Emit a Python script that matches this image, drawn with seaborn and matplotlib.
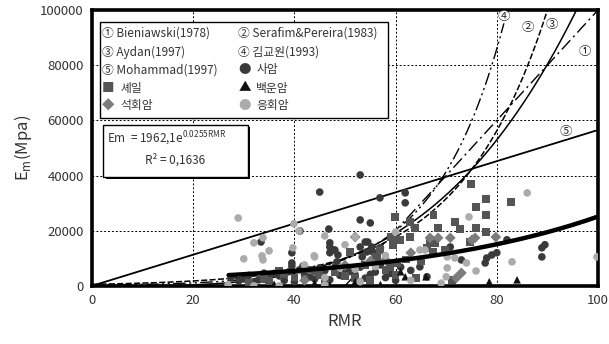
import numpy as np
import pandas as pd
import matplotlib.pyplot as plt
import seaborn as sns
from matplotlib.patches import Rectangle

# scatter data (RMR, Em in MPa)
sandstone = [(45, 34000), (53, 40200), (56.9, 31900), (61.9, 33700), (61.9, 30100), (53, 23900),
             (55, 22800), (46.8, 20600), (41.1, 19900), (47, 15600), (47.6, 13000), (54, 15900),
             (55.3, 14100), (55.5, 12300), (53.4, 10500), (39.5, 12000), (39.5, 8300), (47, 14100),
             (48, 13000), (47, 12000), (48.6, 11200), (48.4, 8700), (53, 14100), (54.5, 15900),
             (54.3, 12300), (57, 13800), (41.7, 7200), (39.5, 7200), (89.5, 14900), (88.9, 13800),
             (88.9, 10500), (80, 12000), (79, 11200), (78, 10100), (77.7, 8300), (73, 9400),
             (66.2, 3300), (64.8, 6900), (70.8, 14100), (82, 16700), (33.4, 15900), (30, 2500),
             (32, 1500), (35, 3000), (38, 2000), (42, 4000), (44, 2500), (46, 5500), (50, 6000),
             (52, 4000), (56, 5000), (58, 3000), (60, 2000), (36, 4500), (29, 1800),
             (31, 3800), (33, 2200), (34, 4600), (37, 3600), (39, 5200), (40, 1500), (41, 5800),
             (43, 3200), (45, 6500), (47, 2200), (48, 6800), (49, 3800), (51, 5200), (53, 6800),
             (54, 2800), (55, 4200), (57, 7600), (59, 4500), (61, 6800), (63, 5600), (27.5, 3000)]
shale = [(74.9, 37000), (77.9, 31500), (82.8, 30400), (75.9, 28600), (77.9, 25700), (67.5, 25700),
         (71.7, 23200), (72.7, 20600), (75.9, 21000), (77.9, 19600), (62.8, 23200), (63.8, 21000),
         (62.8, 17700), (66.8, 16700), (67.8, 15600), (66.2, 13800), (59, 17700), (60.5, 16700),
         (56.9, 13000), (51, 12300), (59.5, 14900), (61, 16700), (56.3, 10100), (58.9, 6900),
         (60.3, 8300), (67.4, 15900), (67.4, 12300), (69.8, 13000), (74.7, 15900), (71.1, 2200),
         (68.4, 21000), (59.9, 25000), (56, 10500), (50, 3500), (45, 4000), (40, 3000), (34, 2500),
         (31, 1200), (55, 2200), (62, 9500), (65, 9000), (48, 5000), (37, 5500), (43, 6000),
         (38, 4200), (42, 2600), (46, 1800), (52, 2800), (54, 7500), (58, 5800), (60, 4000),
         (64, 2800), (35, 1800), (44, 5200)]
dolomite = [(84, 2200), (61, 5100), (61.9, 3300), (66, 3300), (36, 600), (44, 1000), (52, 1500),
            (47, 300), (57, 500), (78.5, 1500)]
limestone = [(52, 17700), (55, 9000), (63, 12000), (70.8, 17400), (68.4, 17400), (66.8, 17400),
             (75.1, 16700), (75.7, 17400), (79.8, 17700), (72, 2900), (73, 4700), (42, 2000),
             (50, 7500), (58, 9500)]
tuff = [(28.9, 24600), (39.9, 22500), (40.9, 19900), (33.8, 17400), (32, 15600), (35, 12700),
        (33.6, 10900), (33.8, 9400), (30, 9800), (39.7, 13800), (43.9, 10900), (46, 18100),
        (52, 17700), (26.9, 400), (32, 0), (37, 0), (86, 33700), (74.5, 25000), (99.8, 10500),
        (83, 8700), (75.9, 5400), (74, 8300), (71.7, 10100), (70.2, 10500), (70.2, 6500),
        (70, 3300), (65.8, 13000), (64.8, 13000), (44, 10500), (42, 7600), (50, 14900),
        (49, 6500), (60, 19500), (58, 11000), (46, 3000), (53, 1500), (63, 2000), (69, 1000),
        (46, 300), (52, 6000), (56, 7000)]

rock_names = ['사암', '셰일', '백운암', '석회암', '응회암']
rock_colors = ['#3a3a3a', '#555555', '#111111', '#7c7c7c', '#ababab']
rock_markers = ['o', 's', '^', 'D', 'o']
rock_glyphs = ['●', '■', '▲', '◆', '●']

# empirical equations shown on the chart (Em in MPa)
bien_slope, bien_icpt = 2000, -100000          # Bieniawski: 2RMR-100 GPa
serafim_a, serafim_b = 10, 40                  # Serafim&Pereira: 10^((RMR-10)/40) GPa
aydan_c, aydan_p = 0.0097, 3.54                # Aydan: 0.0097 RMR^3.54
kim_a, kim_k = 252, 0.0729                     # 김교원
moh_slope = 565                                # Mohammad
reg_a, reg_k = 1962.1, 0.0255                  # regression

frames = []
for name, pts in zip(rock_names, [sandstone, shale, dolomite, limestone, tuff]):
    d = pd.DataFrame(pts, columns=['RMR', 'Em'])
    d['rock'] = name
    frames.append(d)
df = pd.concat(frames, ignore_index=True)

sns.set_style('white')
plt.rcParams['font.family'] = ['Noto Sans CJK KR', 'DejaVu Sans']
plt.rcParams['axes.unicode_minus'] = False

fig = plt.figure(figsize=(6.09, 3.44), dpi=100)
ax = fig.add_axes([0.151, 0.169, 0.831, 0.802])

r = np.linspace(0, 100, 401)
r_b = r[r >= 50]
ax.plot(r_b, bien_slope * r_b + bien_icpt, color='black', lw=1.0, ls=(0, (9, 3, 1.5, 3)))
ax.plot(r, 1000 * 10 ** ((r - serafim_a) / serafim_b), color='black', lw=1.1, ls=(0, (4, 1.5)))
ax.plot(r, aydan_c * r ** aydan_p, color='black', lw=1.1)
ax.plot(r, kim_a * np.exp(kim_k * r), color='black', lw=1.0, ls=(0, (9, 2.5, 1.5, 2.5, 1.5, 2.5)))
ax.plot(r, moh_slope * r, color='black', lw=1.3)

sns.scatterplot(data=df, x='RMR', y='Em', hue='rock', style='rock',
                palette=dict(zip(rock_names, rock_colors)),
                markers=dict(zip(rock_names, rock_markers)),
                s=30, edgecolor='none', legend=False, ax=ax, zorder=3)

r_reg = r[r >= 27]
sns.lineplot(x=r_reg, y=reg_a * np.exp(reg_k * r_reg), color='black', lw=3.2, ax=ax, zorder=4)

ax.set_xlim(0, 100)
ax.set_ylim(0, 100000)
ax.set_xticks([0, 20, 40, 60, 80, 100])
ax.set_yticks([0, 20000, 40000, 60000, 80000, 100000])
ax.grid(True, color='black', ls=(0, (2, 2)), lw=0.7)
ax.tick_params(direction='in', length=4, labelsize=9.5, labelcolor='#333333', pad=6)
for s in ax.spines.values():
    s.set_linewidth(2.6)
    s.set_color('black')
ax.set_xlabel('RMR', fontsize=12, color='#333333', labelpad=4)
ax.set_ylabel('E$_{\\mathregular{m}}$(Mpa)', fontsize=12, color='#333333', labelpad=4)

# curve labels
for txt, x, y in [('④', 81.4, 97500), ('②', 86.2, 93500), ('③', 90.9, 94600),
                  ('①', 97.4, 84800), ('⑤', 93.7, 55800)]:
    ax.text(x, y, txt, fontsize=9, ha='center', va='center', zorder=6,
            bbox=dict(boxstyle='circle,pad=0.0', fc='white', ec='none'))

# legend box
ax.add_patch(Rectangle((0.016, 0.609), 0.569, 0.348, transform=ax.transAxes,
                       fc='white', ec='black', lw=1.0, zorder=7))
rows = [0.918, 0.848, 0.783, 0.717, 0.652]
curve_labels = ['① Bieniawski(1978)', '② Serafim&Pereira(1983)', '③ Aydan(1997)',
                '④ 김교원(1993)', '⑤ Mohammad(1997)']
cells = [(0, 0, curve_labels[0]), (1, 0, curve_labels[1]), (0, 1, curve_labels[2]),
         (1, 1, curve_labels[3]), (0, 2, curve_labels[4])]
for col, row, txt in cells:
    ax.text([0.020, 0.289][col], rows[row], txt, transform=ax.transAxes, fontsize=8.5,
            color='#333333', va='center', zorder=8)
slots = [(1, 2), (0, 3), (1, 3), (0, 4), (1, 4)]
for (col, row), name, glyph, c in zip(slots, rock_names, rock_glyphs, rock_colors):
    x0 = [0.020, 0.289][col]
    ax.text(x0, rows[row], glyph, transform=ax.transAxes, fontsize=9, color=c,
            va='center', zorder=8)
    ax.text(x0 + 0.036, rows[row], name, transform=ax.transAxes, fontsize=8.5,
            color='#333333', va='center', zorder=8)

# equation box with shadow
ax.add_patch(Rectangle((0.027, 0.388), 0.286, 0.188, transform=ax.transAxes,
                       fc='black', ec='black', lw=0, zorder=7))
ax.add_patch(Rectangle((0.022, 0.395), 0.286, 0.188, transform=ax.transAxes,
                       fc='white', ec='black', lw=1.0, zorder=7))
ax.text(0.03, 0.532, 'Em  = 1962,1e$^{\\mathregular{0.0255RMR}}$', transform=ax.transAxes,
        fontsize=8.5, color='#333333', va='center', zorder=8)
ax.text(0.165, 0.458, 'R² = 0,1636', transform=ax.transAxes, fontsize=8.5,
        color='#333333', va='center', ha='center', zorder=8)

fig.savefig('out.png', dpi=100)
